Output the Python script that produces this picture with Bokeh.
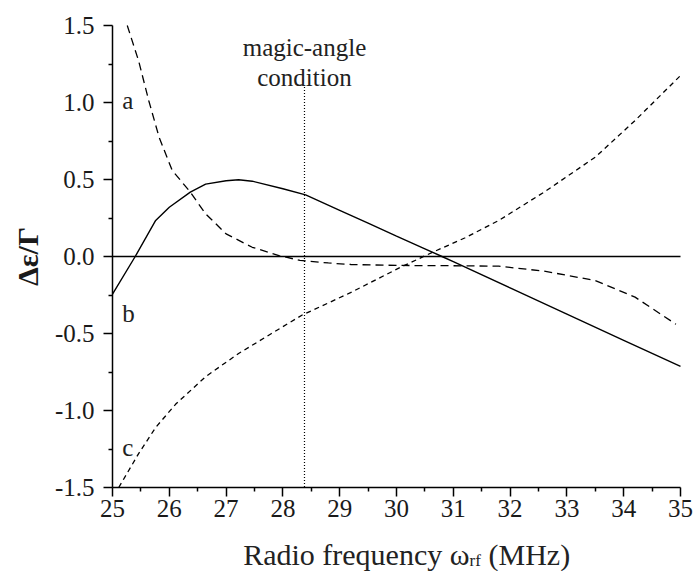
import math
from bokeh.plotting import figure
from bokeh.models import Range1d, FixedTicker, PrintfTickFormatter
from bokeh.embed import file_html
from bokeh.resources import INLINE
from bokeh.core.properties import value

# ---- data ----
freq_a = [25.26, 25.46, 25.64, 25.82, 26.05, 26.37, 26.64, 27.0, 27.46, 27.93,
          28.3, 28.8, 29.2, 30.0, 31.0, 31.8, 32.6, 33.5, 34.2, 34.92]
curve_a = [1.5, 1.27, 1.01, 0.775, 0.56, 0.418, 0.277, 0.147, 0.06, 0.006,
           -0.025, -0.042, -0.052, -0.058, -0.06, -0.063, -0.095, -0.156, -0.264, -0.44]

freq_b = [25.0, 25.4, 25.76, 26.0, 26.37, 26.64, 27.0, 27.22, 27.46, 28.0, 28.4,
          29.0, 29.5, 30.0, 30.5, 30.8, 31.0, 32.0, 33.0, 34.0, 35.0]
curve_b = [-0.245, 0.0, 0.234, 0.32, 0.418, 0.47, 0.492, 0.498, 0.489, 0.44, 0.40,
           0.30, 0.217, 0.133, 0.05, 0.0, -0.034, -0.204, -0.374, -0.544, -0.714]

freq_c = [25.11, 25.46, 25.76, 26.11, 26.64, 27.22, 27.8, 28.34, 29.19, 30.07,
          30.65, 31.2, 31.8, 32.6, 33.5, 34.2, 35.0]
curve_c = [-1.5, -1.28, -1.11, -0.96, -0.78, -0.63, -0.50, -0.38, -0.235, -0.07,
           0.03, 0.12, 0.234, 0.418, 0.645, 0.883, 1.175]

curve_names = ["a", "b", "c"]
name_x = [25.17, 25.17, 25.17]
name_y = [1.013, -0.37, -1.24]

magic_x = 28.38
magic_top = 1.1
magic_text = ["magic-angle", "condition"]
magic_text_y = [1.36, 1.165]

x_ticks = [25, 26, 27, 28, 29, 30, 31, 32, 33, 34, 35]
x_minor = [25.5 + i for i in range(10)]
y_ticks = [-1.5, -1.0, -0.5, 0.0, 0.5, 1.0, 1.5]
y_minor = [-1.25, -0.75, -0.25, 0.25, 0.75, 1.25]

x_label_main = "Radio frequency \u03c9"
x_label_sub = "rf"
x_label_unit = "(MHz)"
y_label = "\u0394\u03b5/\u0393"

FONT = "Liberation Serif"
X_MIN, X_MAX = 25, 35
Y_MIN, Y_MAX = -1.5, 1.5
# the frame covers the whole canvas; axes sit at fixed data locations
X_VIEW = (23.0282, 35.2817)
Y_VIEW = (-2.04545, 1.66234)

p = figure(width=696, height=571, output_backend="svg", toolbar_location=None,
           x_range=Range1d(*X_VIEW), y_range=Range1d(*Y_VIEW),
           min_border_left=0, min_border_right=0, min_border_top=0,
           min_border_bottom=0)
p.outline_line_color = None
p.grid.visible = False
p.background_fill_color = "white"
p.border_fill_color = "white"

for ax in (p.xaxis[0], p.yaxis[0]):
    ax.axis_line_color = "black"
    ax.axis_line_width = 1.5
    ax.major_tick_line_color = "black"
    ax.major_tick_line_width = 1.5
    ax.minor_tick_line_color = "black"
    ax.minor_tick_line_width = 1.5
    ax.major_tick_out = 9
    ax.major_tick_in = 0
    ax.minor_tick_out = 4
    ax.minor_tick_in = 0
    ax.major_label_text_font = FONT
    ax.major_label_text_font_size = "25px"
    ax.major_label_text_color = "#1a1a1a"

p.xaxis.ticker = FixedTicker(ticks=x_ticks, minor_ticks=x_minor)
p.yaxis.ticker = FixedTicker(ticks=y_ticks, minor_ticks=y_minor)
p.xaxis.formatter = PrintfTickFormatter(format="%d")
p.yaxis.formatter = PrintfTickFormatter(format="%.1f")
p.xaxis.major_label_standoff = 3
p.yaxis.major_label_standoff = 9
p.xaxis.fixed_location = Y_MIN
p.yaxis.fixed_location = X_MIN
p.xaxis.bounds = (X_MIN, X_MAX)
p.yaxis.bounds = (Y_MIN, Y_MAX)

# zero line
p.line([X_MIN, X_MAX], [0, 0], line_color="black", line_width=1.4)

# magic-angle marker
p.segment(x0=[magic_x], y0=[magic_top], x1=[magic_x], y1=[Y_MIN],
          line_color="black", line_width=1.2, line_dash="1 2")
p.text(x=[magic_x, magic_x], y=magic_text_y, text=magic_text,
       text_font=value(FONT), text_font_size="25px", text_align="center",
       text_baseline="alphabetic", text_color="#222222")

# curves
p.line(freq_a, curve_a, line_color="black", line_width=1.3, line_dash="8 5")
p.line(freq_b, curve_b, line_color="black", line_width=1.4)
p.line(freq_c, curve_c, line_color="black", line_width=1.3, line_dash="5 4")

p.text(x=name_x, y=name_y, text=curve_names, text_font=value(FONT),
       text_font_size="25px", text_align="left", text_baseline="alphabetic",
       text_color="#222222")

# y-axis title
p.text(x=[23.5035], y=[0.0], text=[y_label], text_font=value(FONT),
       text_font_size="30px", text_font_style="bold", angle=math.pi / 2,
       text_align="center", text_baseline="middle", text_color="#1a1a1a")

# x-axis title: main text, subscript, unit
p.text(x=[31.285], y=[-1.935], text=[x_label_main], text_font=value(FONT),
       text_font_size="30px", text_align="right", text_baseline="alphabetic",
       text_color="#222222")
p.text(x=[31.285], y=[-1.974], text=[x_label_sub], text_font=value(FONT),
       text_font_size="17px", text_align="left", text_baseline="alphabetic",
       text_color="#222222")
p.text(x=[31.62], y=[-1.935], text=[x_label_unit], text_font=value(FONT),
       text_font_size="30px", text_align="left", text_baseline="alphabetic",
       text_color="#222222")

open("out.html", "w").write(file_html(p, INLINE))
